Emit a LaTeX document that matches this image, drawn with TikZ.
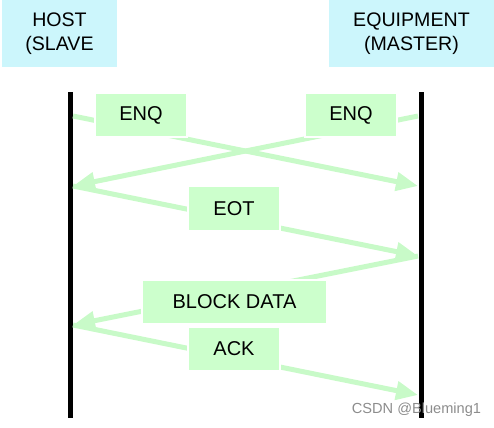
\documentclass[tikz,border=0pt]{standalone}
\usepackage{fontspec}
\setmainfont{Liberation Sans}
\usepackage{tikz}
\usetikzlibrary{arrows.meta, positioning}
\definecolor{boxgreen}{RGB}{204,255,204}
\definecolor{msggreen}{RGB}{200,250,200}
\definecolor{headcyan}{RGB}{204,246,252}
\tikzstyle{head} = [fill=headcyan, inner sep=0pt, minimum height=33.5pt, align=center, font=\fontsize{9.8}{12}\selectfont]
\tikzstyle{msgbox} = [fill=boxgreen, draw=white, line width=0.8pt, inner sep=0pt, minimum width=46pt, minimum height=22pt, font=\fontsize{10}{12}\selectfont]
\tikzstyle{lifeline} = [draw, line width=2.5pt]
\tikzstyle{msg} = [draw=msggreen, line width=2.5pt, -{Triangle[length=11pt, width=9pt]}]

\begin{document}
\begin{tikzpicture}[x=0.5pt, y=-0.5pt]
	\useasboundingbox (0, 0) rectangle (494, 428);
	% lifelines
	\coordinate (hostTop) at (70.5, 92);
	\coordinate (hostBot) at (70.5, 418);
	\coordinate (eqTop) at (421, 92);
	\coordinate (eqBot) at (421, 418);
	\path [lifeline] (hostTop) -- (hostBot);
	\path [lifeline] (eqTop) -- (eqBot);
	
	% message ends
	\coordinate (h1) at (73, 116);
	\coordinate (e1) at (418, 116);
	\coordinate (h2) at (73, 186);
	\coordinate (e2) at (418, 186);
	\coordinate (e3) at (418, 256);
	\coordinate (h4) at (73, 325);
	\coordinate (e5) at (418, 395);
	
	\path [msg] (h1) -- (e2);
	\path [msg] (e1) -- (h2);
	\path [msg] (h2) -- (e3);
	\path [msg] (e3) -- (h4);
	\path [msg] (h4) -- (e5);
	
	\node [msgbox] (enqHost) at (141, 115) {ENQ\hspace{6pt}};
	\node [msgbox] (enqEq) at (351, 115) {ENQ\hspace{6pt}};
	\node [msgbox] (eot) at (234, 208.5) {EOT};
	\node [msgbox, minimum width=92.5pt] (data) at (234.5, 302) {BLOCK DATA};
	\node [msgbox] (ack) at (234, 349) {ACK};
	
	\node [head, minimum width=57.5pt] (host) at (59.5, 33.5) {HOST\\(SLAVE};
	\node [head, minimum width=82.5pt] (equip) at (411.5, 33.5) {EQUIPMENT\\(MASTER)};
	
	\node [text=black!45, font=\fontsize{7.3}{9}\selectfont] (mark) at (416.5, 410) {CSDN @Blueming1};
\end{tikzpicture}
\end{document}
